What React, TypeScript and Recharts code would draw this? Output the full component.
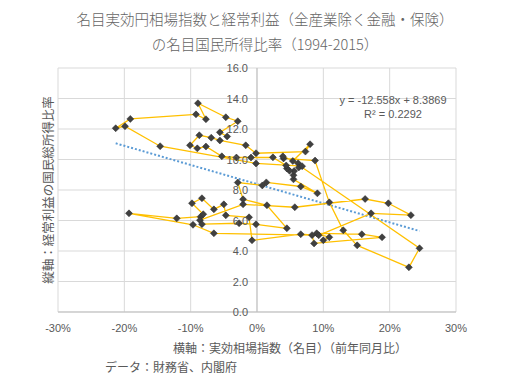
import { CartesianGrid, ReferenceLine, Scatter, ScatterChart, XAxis, YAxis } from 'recharts'

// 実効円相場指数（名目・前年同期比, %） and 経常利益の国民所得比率 (%), in time order
const yenYoY = [
  10.0, 10.9, 9.0, 15.8, 18.85, 8.6, 8.3, -6.5,
  -9.65, -19.3, -12.1, -8.5, -8.1, -9.8, -8.3, -6.5,
  -5.0, -4.7, -1.2, -0.75, 6.6, 9.3, 17.2, 23.2,
  19.8, 16.3, 5.7, -2.1, -8.6, -8.3, -2.7, -0.15,
  4.5, 1.5, -2.1, -2.9, 0.8, 1.4, 6.6, 9.1,
  5.5, 5.5, 5.6, 4.9, 4.5, 4.4, 2.4, -0.9,
  -3.1, -5.3, -7.7, -9.0, -10.1, -8.7, -6.9, -5.6,
  -1.7, -0.15, 7.3, 8.0, 5.4, 24.5, 22.9, 15.1,
  13.0, 10.9, 8.75, 4.0, 3.9, 6.2, 6.3, 6.8,
  -0.15, -14.6, -19.9, -21.3, -19.1, -9.2, -7.7, -8.9,
  -4.7, -2.9, -5.6, -4.5,
]
const profitRatio = [
  4.7, 4.9, 5.16, 5.1, 4.9, 4.5, 5.04, 5.16,
  5.72, 6.47, 6.14, 6.25, 6.41, 7.13, 7.46, 6.73,
  7.06, 6.34, 6.21, 4.7, 5.1, 5.03, 6.47, 6.35,
  7.13, 7.41, 6.87, 7.06, 6.02, 5.76, 5.82, 5.75,
  5.49, 7.0, 7.39, 8.49, 8.3, 8.5, 8.23, 7.78,
  8.7, 8.97, 9.25, 9.26, 9.41, 9.61, 10.14, 10.13,
  10.13, 10.21, 10.85, 10.73, 10.93, 11.59, 11.43, 11.25,
  10.93, 10.41, 10.52, 11.0, 9.9, 4.18, 2.93, 4.37,
  5.36, 7.19, 9.93, 10.07, 10.21, 9.75, 9.48, 9.56,
  9.74, 10.87, 12.18, 12.05, 12.66, 12.96, 12.64, 13.69,
  12.77, 12.51, 11.78, 11.51,
]

const xTicks = [-30, -20, -10, 0, 10, 20, 30]
const yTicks = [0, 2, 4, 6, 8, 10, 12, 14, 16]

// 線形近似 y = -12.558x + 8.3869 (x as a fraction), drawn over the data's x range
const trendSlope = -12.558
const trendIntercept = 8.3869
const trendFrom = -21.3
const trendTo = 24.5

const points = yenYoY.map((x, i) => ({ x, y: profitRatio[i] }))
const trendY = (x: number) => (trendSlope * x) / 100 + trendIntercept

const W = 515
const H = 388
const LEFT = 58
const RIGHT = 456
const TOP = 68
const BOTTOM = 312

const TEXT = '#595959'
const JP = '"Noto Sans CJK JP", "Noto Sans", sans-serif'
const NUM = '"Liberation Sans", Arial, sans-serif'

function Diamond(props: any) {
  const { cx, cy } = props
  const r = 3.5
  return (
    <path
      d={`M${cx},${cy - r}L${cx + r},${cy}L${cx},${cy + r}L${cx - r},${cy}Z`}
      fill="#404040"
      stroke="#2a2a2a"
      strokeWidth={0.5}
    />
  )
}

// y labels sit beside the vertical axis at x = 0, as in the Excel original
function renderYTick(props: any) {
  const { y, payload } = props
  return (
    <text
      x={(LEFT + RIGHT) / 2 - 9}
      y={y}
      textAnchor="end"
      dominantBaseline="central"
      fontSize={11}
      fontFamily={NUM}
      fill={TEXT}
    >
      {Number(payload.value).toFixed(1)}
    </text>
  )
}

export default function App() {
  return (
    <div style={{ position: 'absolute', left: 0, top: 0, width: W, height: H, background: '#fff', fontFamily: JP }}>
      <div style={{ position: 'absolute', left: 265, top: 6, transform: 'translateX(-50%)', whiteSpace: 'nowrap', textAlign: 'center', fontSize: 14.5, fontWeight: 300, lineHeight: '25px', color: '#646464' }}>
        <div>名目実効円相場指数と経常利益（全産業除く金融・保険）</div>
        <div>の名目国民所得比率（1994-2015）</div>
      </div>

      <ScatterChart
        width={W}
        height={H}
        margin={{ top: TOP, left: LEFT - 1, right: W - RIGHT, bottom: H - BOTTOM - 24 }}
      >
        <CartesianGrid stroke="#d9d9d9" strokeWidth={1} />
        <XAxis
          type="number"
          dataKey="x"
          domain={[-30, 30]}
          ticks={xTicks}
          tickFormatter={(v: number) => `${v}%`}
          height={24}
          tickLine={false}
          tickMargin={6}
          axisLine={{ stroke: '#bfbfbf' }}
          tick={{ fontSize: 11, fill: TEXT, fontFamily: NUM }}
          interval={0}
        />
        <YAxis
          type="number"
          dataKey="y"
          domain={[0, 16]}
          ticks={yTicks}
          width={1}
          axisLine={false}
          tickLine={false}
          tick={renderYTick}
          interval={0}
        />
        <ReferenceLine x={0} stroke="#bfbfbf" />
        <Scatter
          data={points}
          line={{ stroke: '#FFC000', strokeWidth: 1.3 }}
          lineType="joint"
          shape={<Diamond />}
          isAnimationActive={false}
        />
        <ReferenceLine
          segment={[
            { x: trendFrom, y: trendY(trendFrom) },
            { x: trendTo, y: trendY(trendTo) },
          ]}
          stroke="#5B9BD5"
          strokeWidth={2}
          strokeDasharray="2 2"
          ifOverflow="visible"
        />
      </ScatterChart>

      <div style={{ position: 'absolute', left: 393, top: 93, transform: 'translateX(-50%)', whiteSpace: 'nowrap', textAlign: 'center', fontSize: 11, lineHeight: '14px', color: TEXT, fontFamily: NUM }}>
        <div>y = -12.558x + 8.3869</div>
        <div>R² = 0.2292</div>
      </div>

      <div style={{ position: 'absolute', left: 47, top: 190, transform: 'translate(-50%, -50%) rotate(-90deg)', whiteSpace: 'nowrap', fontSize: 12.5, color: TEXT }}>
        縦軸：経常利益の国民総所得比率
      </div>

      <div style={{ position: 'absolute', left: 290, top: 347, transform: 'translate(-50%, -50%)', whiteSpace: 'nowrap', fontSize: 12, color: TEXT }}>
        横軸：実効相場指数（名目）（前年同月比）
      </div>

      <div style={{ position: 'absolute', left: 105, top: 366, transform: 'translateY(-50%)', whiteSpace: 'nowrap', fontSize: 12, color: TEXT }}>
        データ：財務省、内閣府
      </div>
    </div>
  )
}
